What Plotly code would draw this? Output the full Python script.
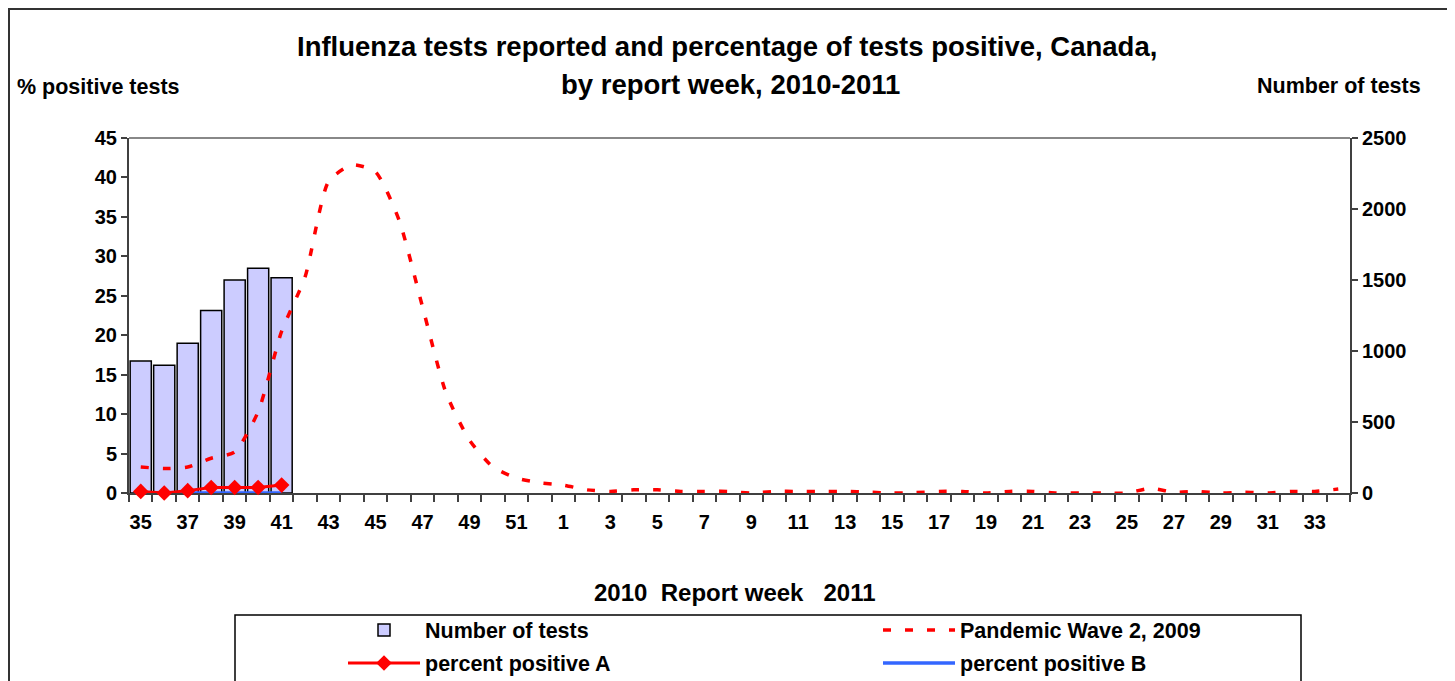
import plotly.graph_objects as go

# ---------------- data ----------------
weeks = [str(w) for w in list(range(35, 53)) + list(range(1, 35))]

tests_weeks = ["35", "36", "37", "38", "39", "40", "41"]
number_of_tests = [930, 900, 1055, 1285, 1500, 1582, 1516]
percent_pos_A = [0.2, 0.0, 0.3, 0.7, 0.7, 0.7, 1.0]
percent_pos_B = [0.0, 0.0, 0.0, 0.0, 0.0, 0.0, 0.0]

pandemic_wave2_2009 = [
    3.3, 3.1, 3.3, 4.4, 5.2, 10.3, 20.5, 27.4, 39.5, 41.6, 40.7, 34.6, 23.6, 12.7,
    6.7, 3.3, 1.9, 1.3,                      # weeks 35-52
    1.0, 0.4, 0.2, 0.4, 0.4, 0.2, 0.2, 0.2, 0.0, 0.2, 0.2, 0.2, 0.2, 0.1, 0.0,
    0.05, 0.2, 0.2, 0.0, 0.2, 0.2, 0.0, 0.0, 0.0, 0.0, 0.6, 0.1, 0.2, 0.0, 0.1,
    0.0, 0.2, 0.2, 0.5                       # weeks 1-34
]

left_ticks = list(range(0, 50, 5))
right_ticks = list(range(0, 3000, 500))
xtick_text = [w if i % 2 == 0 else "" for i, w in enumerate(weeks)]

FONT = "Liberation Sans, Arial, sans-serif"
W, H = 1455, 681
OFF = 8  # default page body margin
# plot area in screen pixels: x 129..1350, y 138..493
SX0, SX1, SY0, SY1 = 129, 1350, 138, 493
ML = SX0 - OFF
MT = SY0 - OFF
PW = SX1 - SX0
PH = SY1 - SY0
MR = W - ML - PW
MB = H - MT - PH


def px(x):
    return (x - SX0) / PW


def py(y):
    return (SY1 - y) / PH


def cy(y):
    # container fraction for a screen y position
    return 1 - (y - OFF) / H


fig = go.Figure()

fig.add_trace(go.Bar(
    x=tests_weeks, y=number_of_tests, name="Number of tests",
    marker=dict(color="#CCCCFF", line=dict(color="#000000", width=1.5)),
    yaxis="y", legend="legend",
))
fig.add_trace(go.Scatter(
    x=weeks, y=pandemic_wave2_2009, name="Pandemic Wave 2, 2009",
    mode="lines", line=dict(color="#FF0000", width=3.5, dash="8px,14px", shape="spline", smoothing=0.6),
    yaxis="y2", legend="legend",
))
fig.add_trace(go.Scatter(
    x=tests_weeks, y=percent_pos_B, name="percent positive B",
    mode="lines", line=dict(color="#3366FF", width=3.5),
    yaxis="y2", legend="legend2", legendrank=2, cliponaxis=False,
))
fig.add_trace(go.Scatter(
    x=tests_weeks, y=percent_pos_A, name="percent positive A",
    mode="lines+markers", line=dict(color="#FF0000", width=3),
    marker=dict(symbol="diamond", size=12, color="#FF0000"),
    yaxis="y2", legend="legend2", legendrank=1, cliponaxis=False,
))

tick_font = dict(family=FONT, size=20, color="#000000", weight="bold")
legend_font = dict(family=FONT, size=21.5, color="#000000", weight="bold")

fig.update_layout(
    width=W, height=H,
    margin=dict(l=ML, r=MR, t=MT, b=MB, pad=0, autoexpand=False),
    paper_bgcolor="white", plot_bgcolor="white",
    bargap=0.1,
    showlegend=True,
    xaxis=dict(
        type="category", categoryarray=weeks, categoryorder="array",
        range=[-0.5, len(weeks) - 0.5],
        tickmode="array", tickvals=weeks, ticktext=xtick_text,
        tickson="boundaries", ticks="outside", ticklen=7, tickwidth=1.5, tickcolor="#404040",
        ticklabelstandoff=10,
        showline=True, linecolor="#404040", linewidth=2, layer="below traces",
        showgrid=False, zeroline=False, tickfont=tick_font, tickangle=0,
    ),
    yaxis=dict(
        side="right", range=[0, 2500], tickvals=right_ticks,
        ticks="outside", ticklen=6, tickwidth=1.5, tickcolor="#404040",
        showline=True, linecolor="#404040", linewidth=2,
        showgrid=False, zeroline=False, tickfont=tick_font,
    ),
    yaxis2=dict(
        overlaying="y", side="left", range=[0, 45], tickvals=left_ticks,
        ticks="outside", ticklen=6, tickwidth=1.5, tickcolor="#404040",
        showline=True, linecolor="#404040", linewidth=2,
        showgrid=False, zeroline=False, tickfont=tick_font,
    ),
    legend=dict(
        orientation="h", x=px(343), xref="paper", y=cy(630), yref="container",
        xanchor="left", yanchor="middle",
        entrywidth=534 - 86, entrywidthmode="pixels", itemwidth=72,
        font=legend_font, bgcolor="rgba(0,0,0,0)", borderwidth=0,
    ),
    legend2=dict(
        orientation="h", x=px(343), xref="paper", y=cy(663), yref="container",
        xanchor="left", yanchor="middle",
        entrywidth=534 - 86, entrywidthmode="pixels", itemwidth=72,
        font=legend_font, bgcolor="rgba(0,0,0,0)", borderwidth=0,
    ),
    shapes=[
        dict(type="rect", xref="paper", yref="paper", x0=px(OFF + 1), x1=px(1450), y0=py(700), y1=py(OFF + 1),
             line=dict(color="#333333", width=2)),
        dict(type="rect", xref="paper", yref="paper", x0=px(235), x1=px(1301), y0=py(700), y1=py(615),
             line=dict(color="#000000", width=1.5)),
        dict(type="line", xref="paper", yref="paper", x0=0, x1=1, y0=1, y1=1,
             line=dict(color="#888888", width=2)),
    ],
    annotations=[
        dict(text="Influenza tests reported and percentage of tests positive, Canada,",
             xref="paper", yref="paper", x=px(727), y=py(47), xanchor="center", yanchor="middle",
             showarrow=False, font=dict(family=FONT, size=27.5, color="#000000", weight="bold")),
        dict(text="by report week, 2010-2011",
             xref="paper", yref="paper", x=px(730), y=py(84), xanchor="center", yanchor="middle",
             showarrow=False, font=dict(family=FONT, size=27.5, color="#000000", weight="bold")),
        dict(text="% positive tests", xref="paper", yref="paper", x=px(15), y=py(87),
             xanchor="left", yanchor="middle", showarrow=False,
             font=dict(family=FONT, size=21.5, color="#000000", weight="bold")),
        dict(text="Number of tests", xref="paper", yref="paper", x=px(1423), y=py(86),
             xanchor="right", yanchor="middle", showarrow=False,
             font=dict(family=FONT, size=21.5, color="#000000", weight="bold")),
        dict(text="2010  Report week   2011", xref="paper", yref="paper", x=px(735), y=py(592),
             xanchor="center", yanchor="middle", showarrow=False,
             font=dict(family=FONT, size=24, color="#000000", weight="bold")),
    ],
)

fig.write_html("out.html", config={"displayModeBar": False})
